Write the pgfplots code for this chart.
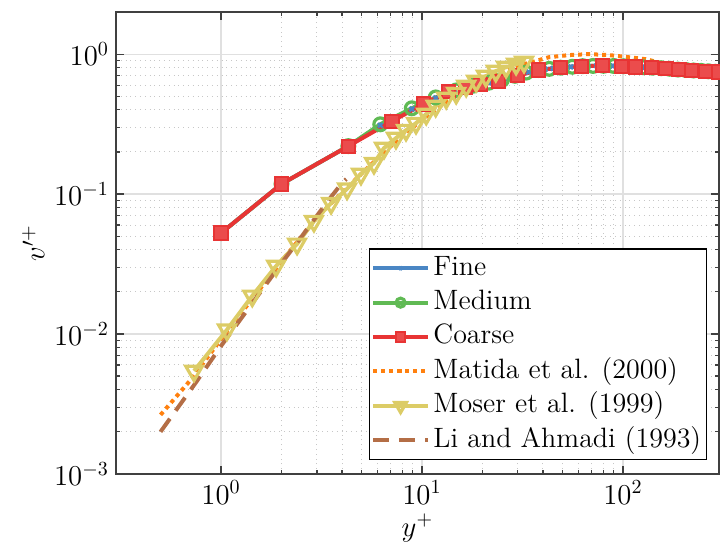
\documentclass[border=0pt]{standalone}
\usepackage{pgfplots}
\pgfplotsset{compat=1.18}
\definecolor{cfine}{RGB}{74,134,196}
\definecolor{cmed}{RGB}{96,186,84}
\definecolor{ccoarse}{RGB}{232,52,52}
\definecolor{cmatida}{RGB}{255,128,14}
\definecolor{cmoser}{RGB}{220,204,102}
\definecolor{cli}{RGB}{180,110,70}
\begin{document}
\begin{tikzpicture}
\begin{axis}[
  scale only axis,
  width=301.5pt, height=231pt,
  xmode=log, ymode=log,
  xmin=0.3, xmax=300, ymin=1e-3, ymax=2,
  xtick={1,10,100}, ytick={1e-3,1e-2,1e-1,1},
  tick align=inside,
  major tick length=4pt, minor tick length=2pt,
  axis line style={draw=black!75, line width=0.8pt},
  every tick/.style={black!75, line width=0.6pt},
  grid=both,
  major grid style={draw=black!12, line width=0.6pt},
  minor grid style={draw=black!22, dotted, line width=0.5pt},
  tick label style={font=\fontsize{14}{17}\selectfont},
  label style={font=\fontsize{14}{17}\selectfont},
  xlabel={$y^+$}, ylabel={$v'^+$},
  xlabel style={yshift=2pt},
  ylabel style={yshift=-2pt},
  legend cell align=left,
  legend style={at={(0.98,0.03)}, anchor=south east, draw=black, line width=0.6pt,
    font=\fontsize{14}{17}\selectfont, inner sep=1pt, row sep=0pt,
    nodes={inner sep=1.5pt, text height=10.5pt, text depth=3.7pt}},
  legend image code/.code={\draw[mark repeat=2,mark phase=2,every mark/.append style={scale=0.7}] plot coordinates {(0cm,0cm) (0.48cm,0cm) (0.97cm,0cm)};},
  clip=true,
]
\coordinate (SW) at (rel axis cs:0,0);
\coordinate (NE) at (rel axis cs:1,1);
% Fine
\addplot[cfine, line width=2pt, mark=x, mark size=1.6pt, mark options={line width=1.2pt, solid}] coordinates {
(1,0.0526) (2,0.118) (4.3,0.220) (6.2,0.31) (8.9,0.405)
(10.4,0.445) (11.7,0.485) (13.0,0.52) (14.5,0.55) (16.0,0.575)
(17.7,0.595) (19.5,0.61) (21.5,0.625) (23.7,0.643) (26,0.67) (28.5,0.695) (31,0.72) (34,0.745)
(37.5,0.765) (41,0.78) (45,0.79) (50,0.80) (55,0.81) (61,0.818) (67,0.822) (74,0.825) (81,0.825)
(89,0.823) (97,0.82) (106,0.816) (115,0.811) (125,0.806) (136,0.80) (147,0.796) (159,0.791)
(172,0.784) (186,0.777) (200,0.771) (215,0.766) (231,0.762) (248,0.758) (266,0.754) (285,0.749) (300,0.745)
};
\addlegendentry{Fine}
% Medium
\addplot[cmed, line width=2pt, mark=o, mark size=3.2pt, mark options={line width=1.6pt, solid}] coordinates {
(1.0,0.0526) (2.0,0.118) (4.3,0.220) (6.2,0.315) (8.9,0.41) (11.7,0.49) (14.8,0.55) (18,0.595)
(21.5,0.625) (25,0.655) (29,0.70) (33,0.738) (38,0.77) (43,0.785) (49,0.80) (56,0.812) (63,0.82)
(71,0.823) (80,0.825) (90,0.823) (101,0.819) (113,0.812) (126,0.806) (140,0.80) (155,0.793)
(171,0.786) (188,0.776) (206,0.77) (225,0.764) (245,0.759) (266,0.754) (288,0.748) (310,0.744)
};
\addlegendentry{Medium}
% Coarse
\addplot[ccoarse, line width=2pt, mark=square*, mark size=3.3pt, mark options={line width=1pt, solid, fill=ccoarse!88!white}] coordinates {
(1.0,0.0526) (2.0,0.118) (4.3,0.220) (7.1,0.332) (10.2,0.44) (13.6,0.54) (16.5,0.58) (19.5,0.605)
(24,0.635) (30,0.70) (38,0.77) (49,0.80) (62,0.82) (79,0.825) (98,0.82) (116,0.81) (139,0.80)
(164,0.79) (190,0.775) (220,0.765) (259,0.755) (300,0.745) (345,0.738)
};
\addlegendentry{Coarse}
% Matida
\addplot[cmatida, line width=2pt, dotted] coordinates {
(0.5,0.00264) (0.72,0.00485) (1,0.0092) (1.5,0.0195) (2,0.033) (3,0.068) (5,0.14) (7,0.22)
(10,0.34) (15,0.52) (20,0.66) (25,0.76) (30,0.83) (35.3,0.877) (42.8,0.95) (53.9,0.984) (67.7,1.0)
(85.2,0.984) (107,0.95) (130,0.92) (156,0.862) (190,0.82) (240,0.775) (300,0.745)
};
\addlegendentry{Matida et al. (2000)}
% Moser
\addplot[cmoser, line width=2pt, mark=triangle, mark size=4.8pt, mark options={rotate=180, line width=1.6pt, solid}] coordinates {
(0.734,0.00544) (1.07,0.0107) (1.43,0.0187) (1.88,0.0306) (2.39,0.044) (2.90,0.064) (3.53,0.086)
(4.24,0.109) (4.97,0.139) (5.77,0.166) (6.47,0.213) (7.42,0.251) (8.33,0.286) (9.34,0.321)
(10.5,0.373) (11.7,0.425) (13.2,0.485) (14.8,0.526) (16.6,0.591) (18.6,0.641) (20.8,0.696)
(23.3,0.756) (26.2,0.807) (29.4,0.849) (32.2,0.877)
};
\addlegendentry{Moser et al. (1999)}
% Li and Ahmadi
\addplot[cli, line width=2pt, dash pattern=on 8pt off 5pt] coordinates {
(0.5,0.002) (0.75,0.0045) (1,0.0082) (1.5,0.0182) (2,0.032) (2.5,0.049) (3,0.07) (3.5,0.094) (4.0,0.12) (4.2,0.128)
};
\addlegendentry{Li and Ahmadi (1993)}
\end{axis}
\pgfresetboundingbox
\path ([shift={(-58pt,-38pt)}]SW) rectangle ([shift={(0.6pt,6pt)}]NE);
\end{tikzpicture}
\end{document}
